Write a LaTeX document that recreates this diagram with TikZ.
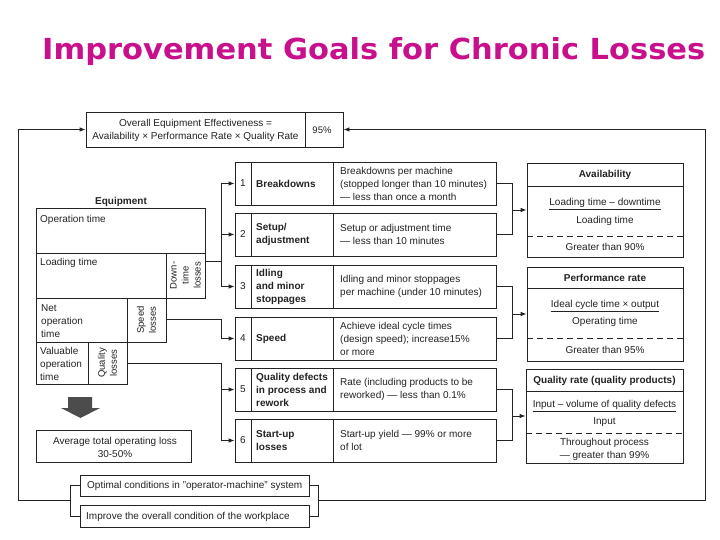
\documentclass[tikz,border=0pt]{standalone}
\usepackage{fontspec}
\usepackage{graphicx}
\setmainfont{Liberation Sans}
\newfontfamily\titlefont{DejaVu Sans}
\usetikzlibrary{fit,arrows.meta}
\definecolor{titlemag}{RGB}{200,16,140}
\definecolor{ink}{RGB}{35,35,35}
\newcommand\lossrow[5]{%
  \node[bx={(235,#2) (251,#3)}] (n#1) {};
  \node[ct] (nt#1) at (n#1.center) {#1};
  \node[bx={(251,#2) (333,#3)}] (m#1) {};
  \node[bx={(333,#2) (496,#3)}] (d#1) {};
  \node[lt,bt] (mt#1) at (256,{(#2+#3)/2}) {#4};
  \node[lt] (dt#1) at (340,{(#2+#3)/2}) {#5};
}
\begin{document}
\begin{tikzpicture}[x=1pt,y=-1pt, font=\fontsize{10}{13}\selectfont, text=ink,
  bx/.style={draw=ink, line width=0.8pt, inner sep=0pt, fit={#1}},
  ln/.style={draw=ink, line width=0.8pt},
  ar/.style={ln, -{Latex[length=6pt,width=4.5pt]}},
  dsh/.style={draw=ink, line width=0.7pt, dash pattern=on 6pt off 4pt},
  lt/.style={anchor=west, align=left, inner sep=0pt},
  ct/.style={align=center, inner sep=0pt},
  rt/.style={ct, rotate=90, font=\fontsize{9.5}{12}\selectfont},
  bt/.style={font=\fontsize{10}{13}\selectfont\bfseries},
  bar/.style={draw=ink, line width=0.6pt},
]
\useasboundingbox[fill=white] (0,0) rectangle (720,540);

% title
\node[anchor=base west, inner sep=0pt, text=titlemag, font=\titlefont\bfseries] (title) at (42,60)
  {\resizebox{663pt}{22pt}{Improvement Goals for Chronic Losses}};

% OEE
\node[bx={(86,112) (305,147)}] (oee) {};
\node[ct] (oeet) at (195.5,130) {Overall Equipment Effectiveness =\\Availability × Performance Rate × Quality Rate};
\node[bx={(305,112) (343,147)}] (pct) {};
\node[ct, font=\fontsize{9.5}{12}\selectfont] (pctt) at (322,130.5) {95\%};

% equipment
\node[bt, inner sep=0pt] (eqt) at (121,202) {Equipment};
\node[bx={(36,208) (205,253)}] (op) {};
\node[lt] (optx) at (40,220) {Operation time};
\node[bx={(36,253) (166,298)}] (load) {};
\node[lt] (loadt) at (40,263) {Loading time};
\node[bx={(166,253) (205,298)}] (down) {};
\node[rt] (downt) at (185.5,275.5) {Down-\\time\\losses};
\node[bx={(36,298) (127,342)}] (net) {};
\node[lt] (nett) at (41,321) {Net\\operation\\time};
\node[bx={(127,298) (166,342)}] (spd) {};
\node[rt] (spdt) at (146.5,320) {Speed\\losses};
\node[bx={(36,342) (88,384)}] (val) {};
\node[lt] (valt) at (40,364) {Valuable\\operation\\time};
\node[bx={(88,342) (127,384)}] (qual) {};
\node[rt] (qualt) at (107.5,363) {Quality\\losses};

% block arrow
\fill[black!70] (68,397) -- (92,397) -- (92,408) -- (100,408) -- (80.5,418) -- (61,408) -- (68,408) -- cycle;
\node[bx={(36,430) (191,462)}] (avg) {};
\node[ct] (avgt) at (115,447) {Average total operating loss\\30-50\%};

% loss rows
\lossrow{1}{162}{205}{Breakdowns}{Breakdowns per machine\\(stopped longer than 10 minutes)\\— less than once a month}
\lossrow{2}{213}{256}{Setup/\\adjustment}{Setup or adjustment time\\— less than 10 minutes}
\lossrow{3}{265}{308}{Idling\\and minor\\stoppages}{Idling and minor stoppages\\per machine (under 10 minutes)}
\lossrow{4}{317}{360}{Speed}{Achieve ideal cycle times\\(design speed); increase15\%\\or more}
\lossrow{5}{368}{411}{Quality defects\\in process and\\rework}{Rate (including products to be\\reworked) — less than 0.1\%}
\lossrow{6}{419}{462}{Start-up\\losses}{Start-up yield — 99\% or more\\of lot}

% right boxes
\node[bx={(527,163) (683,257)}] (avail) {};
\draw[ln] (527,186) -- (683,186);
\node[ct,bt] (availt) at (605,175) {Availability};
\node[ct] (an) at (605,203) {Loading time – downtime};
\draw[bar] ([yshift=-1.5pt]an.south west) -- ([yshift=-1.5pt]an.south east);
\node[ct] (ad) at (605,221) {Loading time};
\draw[dsh] (527,236) -- (683,236);
\node[ct] (ag) at (605,247) {Greater than 90\%};

\node[bx={(527,267) (683,361)}] (perf) {};
\draw[ln] (527,288) -- (683,288);
\node[ct,bt] (perft) at (605,278) {Performance rate};
\node[ct] (pn) at (605,305) {Ideal cycle time × output};
\draw[bar] ([yshift=-1.5pt]pn.south west) -- ([yshift=-1.5pt]pn.south east);
\node[ct] (pd) at (605,322) {Operating time};
\draw[dsh] (527,338) -- (683,338);
\node[ct] (pg) at (605,350) {Greater than 95\%};

\node[bx={(526,369) (683,463)}] (qr) {};
\draw[ln] (526,391) -- (683,391);
\node[ct,bt] (qrt) at (604.5,380.5) {Quality rate (quality products)};
\node[ct] (qn) at (604.5,405) {Input – volume of quality defects};
\draw[bar] ([yshift=-1.5pt]qn.south west) -- ([yshift=-1.5pt]qn.south east);
\node[ct] (qd) at (604.5,422) {Input};
\draw[dsh] (526,433) -- (683,433);
\node[ct] (qg) at (604.5,449.5) {Throughout process\\— greater than 99\%};

% bottom boxes
\node[bx={(80,475) (309,496)}] (opt) {};
\node[lt] (optt) at (87,486) {Optimal conditions in "operator-machine" system};
\node[bx={(80,505) (309,527)}] (impr) {};
\node[lt] (imprt) at (86,516.5) {Improve the overall condition of the workplace};

% left connectors
\coordinate (j1) at (221,261);
\coordinate (j2) at (221,319);
\coordinate (j3) at (221,363);
\draw[ln] (down.east |- j1) -- (j1);
\draw[ln] (j1 |- n1.west) -- (j1 |- n3.west);
\draw[ar] (j1 |- n1.west) -- (n1.west);
\draw[ar] (j1 |- n2.west) -- (n2.west);
\draw[ar] (j1 |- n3.west) -- (n3.west);
\draw[ar] (spd.east |- j2) -- (j2) |- (n4.west);
\draw[ln] (qual.east |- j3) -- (j3) -- (j3 |- n6.west);
\draw[ar] (j3 |- n5.west) -- (n5.west);
\draw[ar] (j3 |- n6.west) -- (n6.west);

% right connectors
\coordinate (kx) at (512,0);
\draw[ln] (d1.east) -| (kx |- d2.east) -- (d2.east);
\draw[ar] (kx |- avail.west) -- (avail.west);
\draw[ln] (d3.east) -| (kx |- d4.east) -- (d4.east);
\draw[ar] (kx |- perf.west) -- (perf.west);
\draw[ln] (d5.east) -| (kx |- d6.east) -- (d6.east);
\draw[ar] (kx |- qr.west) -- (qr.west);

% feedback loops
\coordinate (bl) at (70,500);
\coordinate (br) at (318,500);
\coordinate (fl) at (18,500);
\coordinate (fr) at (705,500);
\draw[ln] (opt.west) -| (bl |- impr.west) -- (impr.west);
\draw[ar] (bl) -- (fl) |- (oee.west);
\draw[ln] (opt.east) -| (br |- impr.east) -- (impr.east);
\draw[ar] (br) -- (fr) |- (pct.east);
\end{tikzpicture}
\end{document}
